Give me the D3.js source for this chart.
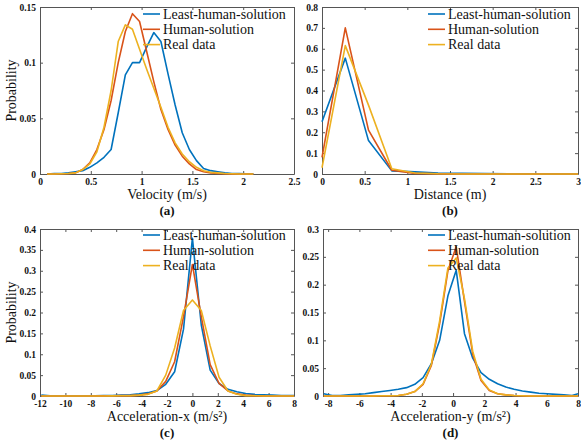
<!DOCTYPE html>
<html>
<head>
<meta charset="utf-8">
<script src="https://cdn.jsdelivr.net/npm/d3@7"></script>
<style>
  body { margin: 0; background: #fff; }
  svg text { font-family: "Liberation Serif", "DejaVu Serif", "Times New Roman", serif; }
</style>
</head>
<body>
<svg id="chart" width="581" height="443"></svg>
<script>
// series names and colours (MATLAB default order)
var seriesNames = ["Least-human-solution", "Human-solution", "Real data"];
var seriesColors = ["#0072BD", "#D95319", "#EDB120"];

// (a) velocity
var velX = [0.07, 0.14, 0.21, 0.28, 0.35, 0.42, 0.49, 0.56, 0.63, 0.70, 0.77, 0.84, 0.91, 0.98, 1.05,
            1.12, 1.19, 1.26, 1.33, 1.40, 1.47, 1.54, 1.61, 1.68, 1.75, 1.82, 1.89, 1.96, 2.03, 2.10];
var velLeast = [0, 0.0003, 0.0005, 0.001, 0.002, 0.003, 0.006, 0.010, 0.015, 0.022, 0.055, 0.089, 0.100, 0.100, 0.114,
                0.127, 0.119, 0.090, 0.062, 0.037, 0.022, 0.012, 0.005, 0.003, 0.002, 0.001, 0.0005, 0.0003, 0.0002, 0.0001];
var velHuman = [0, 0, 0.0002, 0.0005, 0.001, 0.004, 0.010, 0.022, 0.040, 0.066, 0.100, 0.128, 0.144, 0.137, 0.110,
                0.083, 0.058, 0.040, 0.026, 0.016, 0.009, 0.004, 0.002, 0.001, 0.0005, 0.0002, 0, 0, 0, 0];
var velReal = [0, 0, 0.0002, 0.0005, 0.001, 0.004, 0.009, 0.020, 0.042, 0.075, 0.119, 0.134, 0.130, 0.112, 0.094,
               0.077, 0.060, 0.042, 0.028, 0.018, 0.011, 0.006, 0.003, 0.0015, 0.001, 0.0005, 0.0002, 0, 0, 0];

// (b) distance
var distX = [0, 0.273, 0.545, 0.818, 1.09, 1.36, 1.64, 1.91, 2.18, 2.45, 2.73, 3.0];
var distLeast = [0.25, 0.555, 0.16, 0.015, 0.010, 0.005, 0.003, 0.002, 0.001, 0.001, 0.0005, 0];
var distHuman = [0.08, 0.70, 0.21, 0.018, 0.003, 0.001, 0, 0, 0, 0, 0, 0];
var distReal = [0.03, 0.615, 0.33, 0.025, 0.005, 0.001, 0, 0, 0, 0, 0, 0];

// (c) acceleration-x
var accXX = [-11.9, -11.2, -10.5, -9.8, -9.1, -8.4, -7.7, -7.0, -6.3, -5.6, -4.9, -4.2, -3.5, -2.8, -2.1, -1.4, -0.7,
             0, 0.7, 1.4, 2.1, 2.8, 3.5, 4.2, 4.9, 5.6, 6.3, 7.0, 7.7, 8.0];
var accXLeast = [0.002, 0.0005, 0.0005, 0.0005, 0.0005, 0.0005, 0.0005, 0.001, 0.001, 0.002, 0.003, 0.005, 0.008, 0.013, 0.028, 0.058, 0.160,
                 0.378, 0.170, 0.062, 0.030, 0.016, 0.010, 0.006, 0.004, 0.003, 0.002, 0.001, 0.001, 0.001];
var accXHuman = [0, 0, 0, 0, 0, 0, 0, 0.0002, 0.0005, 0.0008, 0.001, 0.002, 0.005, 0.012, 0.035, 0.082, 0.190,
                 0.315, 0.190, 0.075, 0.030, 0.012, 0.005, 0.002, 0.001, 0.0005, 0, 0, 0, 0];
var accXReal = [0, 0, 0, 0, 0, 0, 0, 0, 0.0002, 0.0005, 0.001, 0.002, 0.004, 0.012, 0.050, 0.115, 0.205,
                0.230, 0.205, 0.120, 0.045, 0.012, 0.004, 0.001, 0.0005, 0, 0, 0, 0, 0];

// (d) acceleration-y
var accYX = [-8.28, -7.75, -7.22, -6.69, -6.16, -5.63, -5.10, -4.57, -4.04, -3.51, -2.98, -2.45, -1.92, -1.39, -0.86, -0.33,
             0.20, 0.73, 1.26, 1.79, 2.32, 2.85, 3.38, 3.91, 4.44, 4.97, 5.50, 6.03, 6.56, 7.09, 7.62, 8.0];
var accYLeast = [0.004, 0.001, 0.001, 0.002, 0.003, 0.004, 0.006, 0.008, 0.010, 0.012, 0.015, 0.021, 0.033, 0.058, 0.100, 0.180,
                 0.226, 0.112, 0.068, 0.042, 0.030, 0.022, 0.016, 0.012, 0.009, 0.007, 0.005, 0.004, 0.003, 0.002, 0.001, 0.004];
var accYHuman = [0, 0, 0, 0, 0, 0, 0, 0.0005, 0.0005, 0.001, 0.003, 0.008, 0.021, 0.055, 0.130, 0.225,
                 0.268, 0.170, 0.075, 0.028, 0.010, 0.004, 0.002, 0.001, 0.0005, 0, 0, 0, 0, 0, 0, 0];
var accYReal = [0, 0, 0, 0, 0, 0, 0, 0.0005, 0.0005, 0.001, 0.003, 0.008, 0.022, 0.057, 0.135, 0.230,
                0.248, 0.175, 0.080, 0.030, 0.011, 0.004, 0.002, 0.001, 0.0005, 0, 0, 0, 0, 0, 0, 0];

// tick values
var velXTicks = [0, 0.5, 1, 1.5, 2, 2.5], velYTicks = [0, 0.05, 0.1, 0.15];
var distXTicks = [0, 0.5, 1, 1.5, 2, 2.5, 3], distYTicks = [0, 0.1, 0.2, 0.3, 0.4, 0.5, 0.6, 0.7, 0.8];
var accXXTicks = [-12, -10, -8, -6, -4, -2, 0, 2, 4, 6, 8], accXYTicks = [0, 0.05, 0.1, 0.15, 0.2, 0.25, 0.3, 0.35, 0.4];
var accYXTicks = [-8, -6, -4, -2, 0, 2, 4, 6, 8], accYYTicks = [0, 0.05, 0.1, 0.15, 0.2, 0.25, 0.3];

var svg = d3.select("#chart");
var fmt = function (d) { return String(+d.toFixed(3)); };
var serif = "Liberation Serif, DejaVu Serif, Times New Roman, serif";

var panels = [
    {x: velX, ys: [velLeast, velHuman, velReal], xDom: [0, 2.5], yDom: [0, 0.15], xTicks: velXTicks, yTicks: velYTicks,
     px: [40, 294], py: [174, 7], xTitle: "Velocity (m/s)", tag: "(a)", yTitle: true, legX: 143, legY: 14},
    {x: distX, ys: [distLeast, distHuman, distReal], xDom: [0, 3], yDom: [0, 0.8], xTicks: distXTicks, yTicks: distYTicks,
     px: [322, 578], py: [174, 7], xTitle: "Distance (m)", tag: "(b)", yTitle: false, legX: 428, legY: 14},
    {x: accXX, ys: [accXLeast, accXHuman, accXReal], xDom: [-12, 8], yDom: [0, 0.4], xTicks: accXXTicks, yTicks: accXYTicks,
     px: [40, 294], py: [396, 229], xTitle: "Acceleration-x (m/s\u00B2)", tag: "(c)", yTitle: true, legX: 143, legY: 235},
    {x: accYX, ys: [accYLeast, accYHuman, accYReal], xDom: [-8.33, 8], yDom: [0, 0.3], xTicks: accYXTicks, yTicks: accYYTicks,
     px: [323, 578], py: [396, 229], xTitle: "Acceleration-y (m/s\u00B2)", tag: "(d)", yTitle: false, legX: 428, legY: 235}
];

function styleAxis(sel) {
    sel.attr("font-family", serif).attr("font-size", 9.5).attr("font-weight", "bold");
    sel.selectAll(".domain, .tick line").attr("stroke", "#555");
    sel.selectAll(".tick text").attr("fill", "#111").attr("font-family", serif);
}

panels.forEach(function (p) {
    var x = d3.scaleLinear().domain(p.xDom).range(p.px);
    var y = d3.scaleLinear().domain(p.yDom).range(p.py);
    var g = svg.append("g");

    // box with mirrored ticks
    g.append("g").attr("transform", "translate(0," + p.py[0] + ")")
        .call(d3.axisBottom(x).tickValues(p.xTicks).tickFormat(fmt).tickSizeInner(-3).tickSizeOuter(0).tickPadding(4))
        .call(styleAxis);
    g.append("g").attr("transform", "translate(" + p.px[0] + ",0)")
        .call(d3.axisLeft(y).tickValues(p.yTicks).tickFormat(fmt).tickSizeInner(-3).tickSizeOuter(0).tickPadding(4))
        .call(styleAxis);
    g.append("g").attr("transform", "translate(0," + p.py[1] + ")")
        .call(d3.axisTop(x).tickValues(p.xTicks).tickFormat("").tickSizeInner(-3).tickSizeOuter(0))
        .call(styleAxis);
    g.append("g").attr("transform", "translate(" + p.px[1] + ",0)")
        .call(d3.axisRight(y).tickValues(p.yTicks).tickFormat("").tickSizeInner(-3).tickSizeOuter(0))
        .call(styleAxis);

    var line = d3.line()
        .x(function (d) { return x(d[0]); })
        .y(function (d) { return y(d[1]); });

    p.ys.forEach(function (vals, i) {
        g.append("path")
            .datum(p.x.map(function (v, j) { return [v, vals[j]]; }))
            .attr("d", line)
            .attr("fill", "none")
            .attr("stroke", seriesColors[i])
            .attr("stroke-width", 1.6)
            .attr("stroke-linejoin", "round");
    });

    // legend (transparent, no frame)
    seriesNames.forEach(function (name, i) {
        var ly = p.legY + i * 15.3;
        g.append("line")
            .attr("x1", p.legX).attr("x2", p.legX + 17)
            .attr("y1", ly).attr("y2", ly)
            .attr("stroke", seriesColors[i]).attr("stroke-width", 1.6);
        g.append("text")
            .attr("x", p.legX + 20).attr("y", ly + 4.5)
            .attr("font-family", serif).attr("font-size", "14px").attr("fill", "#111")
            .text(name);
    });

    var cx = (p.px[0] + p.px[1]) / 2;
    g.append("text").attr("x", cx).attr("y", p.py[0] + 25)
        .attr("text-anchor", "middle").attr("font-family", serif).attr("font-size", "14px").attr("fill", "#111")
        .text(p.xTitle);
    g.append("text").attr("x", cx).attr("y", p.py[0] + 41)
        .attr("text-anchor", "middle").attr("font-family", serif).attr("font-size", "13px")
        .attr("font-weight", "bold").attr("fill", "#111")
        .text(p.tag);

    if (p.yTitle) {
        g.append("text")
            .attr("transform", "translate(16," + ((p.py[0] + p.py[1]) / 2) + ") rotate(-90)")
            .attr("text-anchor", "middle").attr("font-family", serif).attr("font-size", "14px").attr("fill", "#111")
            .text("Probability");
    }
});
</script>
</body>
</html>
